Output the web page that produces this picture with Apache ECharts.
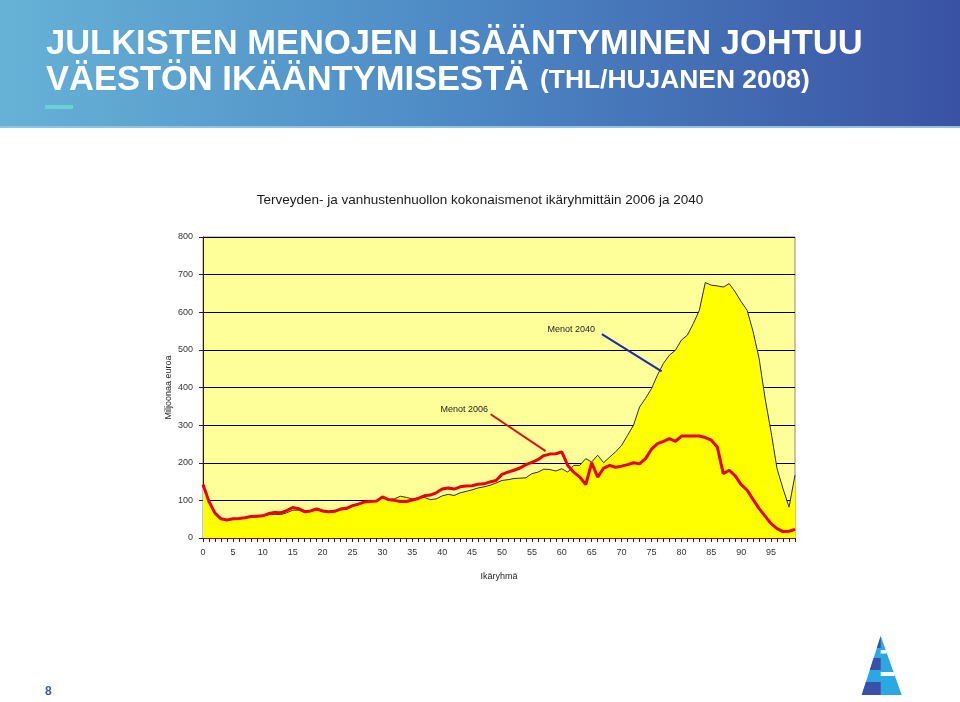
<!DOCTYPE html>
<html>
<head>
<meta charset="utf-8">
<script src="https://cdn.jsdelivr.net/npm/echarts@6/dist/echarts.min.js"></script>
<style>
html,body{margin:0;padding:0;background:#fff;}
#chart{width:960px;height:702px;}
</style>
</head>
<body>
<div id="chart"></div>
<script>
const ages = [0,1,2,3,4,5,6,7,8,9,10,11,12,13,14,15,16,17,18,19,
  20,21,22,23,24,25,26,27,28,29,30,31,32,33,34,35,36,37,38,39,
  40,41,42,43,44,45,46,47,48,49,50,51,52,53,54,55,56,57,58,59,
  60,61,62,63,64,65,66,67,68,69,70,71,72,73,74,75,76,77,78,79,
  80,81,82,83,84,85,86,87,88,89,90,91,92,93,94,95,96,97,98,99];

const menot2006 = [142,97,66,51,48,51,52,54,57,58,59,65,68,67,73,81,78,70,72,77,
  72,70,71,77,79,86,90,96,97,98,109,102,100,97,97,101,105,112,114,120,
  130,133,130,136,138,139,143,144,149,153,169,175,180,186,195,201,208,219,223,224,
  229,193,175,162,142,200,162,186,193,188,191,195,200,197,211,236,251,257,264,257,
  271,271,271,271,267,260,242,171,180,165,142,127,102,78,58,38,25,17,18,23];

const menot2040 = [138,95,64,50,47,50,51,53,56,57,58,62,63,62,67,74,74,68,71,75,
  70,69,70,75,76,84,89,95,97,98,108,103,104,111,108,104,106,108,102,104,
  112,116,113,120,124,128,133,136,140,146,153,155,158,159,160,171,175,183,182,178,
  184,175,193,193,211,202,220,200,215,229,246,273,300,348,371,397,433,464,486,499,
  526,539,570,605,679,672,670,667,676,654,628,605,548,477,371,282,184,131,82,167];

const seriesNames = ['Menot 2040', 'Menot 2006'];
const chartTitle = 'Terveyden- ja vanhustenhuollon kokonaismenot ikäryhmittäin 2006 ja 2040';
const yName = 'Miljoonaa euroa';
const xName = 'Ikäryhmä';
const slideTitle1 = 'JULKISTEN MENOJEN LISÄÄNTYMINEN JOHTUU';
const slideTitle2a = 'VÄESTÖN IKÄÄNTYMISESTÄ';
const slideTitle2b = '(THL/HUJANEN 2008)';
const pageNo = '8';

const chart = echarts.init(document.getElementById('chart'), null, {renderer: 'canvas'});
const FONT = '"Liberation Sans", Arial, sans-serif';

const data2040 = ages.map((a, i) => [a, menot2040[i]]);
const data2006 = ages.map((a, i) => [a, menot2006[i]]);

const annText = (txt, coord) => ({
  coord: coord, symbol: 'rect', symbolSize: 1,
  itemStyle: {color: 'rgba(0,0,0,0)'},
  label: {show: true, position: 'inside', formatter: txt, fontFamily: FONT, fontSize: 9, color: '#222'}
});

const option = {
  animation: false,
  backgroundColor: '#ffffff',
  title: {
    text: chartTitle, left: 'center', top: 188,
    textStyle: {fontFamily: FONT, fontSize: 13.5, fontWeight: 'normal', color: '#1a1a1a'}
  },
  grid: {
    left: 203, right: 165, top: 237, bottom: 164,
    show: true, backgroundColor: '#FFFF99', borderColor: '#8a8a8a', borderWidth: 1
  },
  xAxis: {
    type: 'value', min: 0, max: 99, interval: 5,
    name: xName, nameLocation: 'middle', nameGap: 34, nameMoveOverlap: false,
    nameTextStyle: {fontFamily: FONT, fontSize: 9, color: '#222'},
    axisLine: {show: true, onZero: false, lineStyle: {color: '#9a1010', width: 1}},
    axisTick: {show: true, length: 4, lineStyle: {color: '#222'}},
    minorTick: {show: true, splitNumber: 5, length: 4, lineStyle: {color: '#222'}},
    splitLine: {show: false},
    axisLabel: {fontFamily: FONT, fontSize: 9, color: '#333', margin: 10, showMaxLabel: false}
  },
  yAxis: {
    type: 'value', min: 0, max: 800, interval: 100,
    name: yName, nameLocation: 'middle', nameGap: 30, nameRotate: 90, nameMoveOverlap: false,
    nameTextStyle: {fontFamily: FONT, fontSize: 9, color: '#222'},
    axisLine: {show: true, lineStyle: {color: '#222'}},
    axisTick: {show: true, length: 4, lineStyle: {color: '#222'}},
    splitLine: {show: true, lineStyle: {color: '#000', width: 1}},
    axisLabel: {fontFamily: FONT, fontSize: 9, color: '#333', margin: 10}
  },
  series: [
    {
      name: seriesNames[0], type: 'line', data: data2040, symbol: 'none', z: 2,
      lineStyle: {color: '#2a2a44', width: 1},
      areaStyle: {color: '#FFFF00', opacity: 1},
      markLine: {
        silent: true, symbol: ['none', 'arrow'], symbolSize: [0, 9],
        label: {show: false},
        lineStyle: {color: '#1a2ab8', width: 2, type: 'solid'},
        data: [[{coord: [66.7, 542]}, {coord: [76.7, 443]}]]
      },
      markPoint: {silent: true, data: [annText(seriesNames[0], [61.6, 555])]}
    },
    {
      name: seriesNames[1], type: 'line', data: data2006, symbol: 'none', z: 3,
      lineStyle: {color: '#E8000B', width: 3},
      markLine: {
        silent: true, symbol: ['none', 'arrow'], symbolSize: [0, 9],
        label: {show: false},
        lineStyle: {color: '#E01010', width: 2, type: 'solid'},
        data: [[{coord: [48.1, 329]}, {coord: [57.3, 231]}]]
      },
      markPoint: {silent: true, data: [annText(seriesNames[1], [43.7, 342])]}
    }
  ],
  graphic: [
    {
      type: 'rect', left: 0, top: 0, z: -10, silent: true,
      shape: {width: 960, height: 128},
      style: {fill: new echarts.graphic.LinearGradient(0, 0, 1, 0, [
        {offset: 0, color: '#66B2D6'},
        {offset: 0.45, color: '#4E8CC6'},
        {offset: 1, color: '#3A52A4'}
      ])}
    },
    {type: 'rect', left: 0, top: 126, z: -9, silent: true, shape: {width: 960, height: 2}, style: {fill: '#8FC3E2'}},
    {type: 'rect', left: 45, top: 105, z: 5, silent: true, shape: {width: 28, height: 4}, style: {fill: '#6FCFD6'}},
    {
      type: 'text', left: 46, top: 27, z: 5, silent: true,
      style: {text: slideTitle1, fill: '#ffffff', font: 'bold 34.5px ' + FONT}
    },
    {
      type: 'text', left: 46, top: 63, z: 5, silent: true,
      style: {text: slideTitle2a, fill: '#ffffff', font: 'bold 34.5px ' + FONT}
    },
    {
      type: 'text', left: 540, top: 68, z: 5, silent: true,
      style: {text: slideTitle2b, fill: '#ffffff', font: 'bold 26.4px ' + FONT}
    },
    {
      type: 'text', left: 45, top: 686, z: 5, silent: true,
      style: {text: pageNo, fill: '#3A5AA8', font: 'bold 12px ' + FONT}
    },
    {
      type: 'group', left: 861.7, top: 636, z: 5, silent: true,
      children: [
        {type: 'polygon', shape: {points: [[19,0],[0,59],[40,59]]}, style: {fill: '#2BA8E0'}},
        {type: 'polygon', shape: {points: [[19,0],[15.1,12],[19,12]]}, style: {fill: '#3A4FA8'}},
        {type: 'polygon', shape: {points: [[11.9,22],[8.1,34],[19,34],[19,22]]}, style: {fill: '#3A4FA8'}},
        {type: 'polygon', shape: {points: [[4.2,46],[0,59],[19,59],[19,46]]}, style: {fill: '#3A4FA8'}},
        {type: 'polygon', shape: {points: [[19,14],[19,17.5],[25.2,17.5],[24,14]]}, style: {fill: '#ffffff'}},
        {type: 'polygon', shape: {points: [[19,36],[19,40],[33.2,40],[31.8,36]]}, style: {fill: '#ffffff'}}
      ]
    }
  ]
};
chart.setOption(option);
</script>
</body>
</html>
